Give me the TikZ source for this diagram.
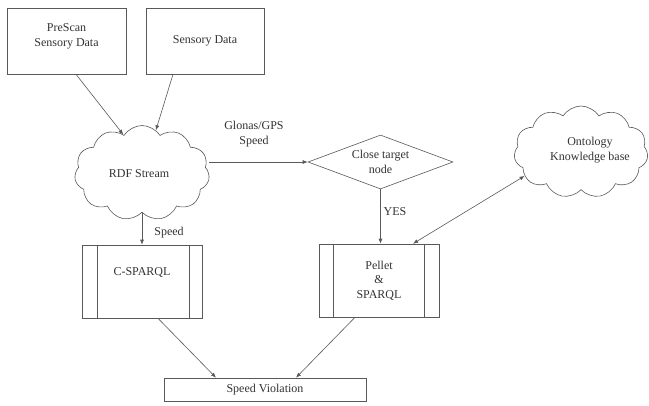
\documentclass[tikz,border=0pt]{standalone}
\usepackage{fontspec}
\setmainfont{Liberation Serif}
\usetikzlibrary{shapes.geometric,shapes.symbols,arrows.meta,calc}
\definecolor{lncol}{gray}{0.35}
\definecolor{txcol}{gray}{0.2}
\tikzset{
  every node/.style={text=txcol,font=\fontsize{12}{14.5}\selectfont},
  databox/.style={draw=lncol,line width=0.6pt,rectangle,inner sep=0pt,align=center},
  procbox/.style={draw=lncol,line width=0.6pt,rectangle,inner sep=0pt,minimum width=120pt,minimum height=73pt,align=center},
  cloudbox/.style={draw=lncol,line width=0.6pt,cloud,cloud puffs=11,cloud puff arc=115,inner sep=0pt,align=center},
  decbox/.style={draw=lncol,line width=0.6pt,diamond,aspect=2.7,inner sep=0pt,minimum width=145pt,minimum height=54pt,align=center},
  arr/.style={draw=lncol,line width=0.6pt,-{Latex[length=5pt,width=4pt]}},
  darr/.style={draw=lncol,line width=0.6pt,{Latex[length=5pt,width=4pt]}-{Latex[length=5pt,width=4pt]}},
  lbl/.style={align=center,inner sep=0pt}
}
\begin{document}
\begin{tikzpicture}[x=1pt,y=-1pt]
\useasboundingbox[fill=white] (0,0) rectangle (649,405);

\node[databox,minimum width=119pt,minimum height=66pt] (b1) at (66.5,41) {};
\node[lbl] at (66.5,36.5) {PreScan\\Sensory Data};
\node[databox,minimum width=118pt,minimum height=66pt] (b2) at (205,41) {Sensory Data};

\node[cloudbox,minimum width=135pt,minimum height=95pt] (rdf) at (142,173) {};
\node[lbl] at (139,174) {RDF Stream};

\node[decbox] (dia) at (380.5,162) {Close target\\node};

\node[cloudbox,minimum width=134pt,minimum height=92pt] (ont) at (581,152) {};
\node[lbl] at (590,150) {Ontology\\Knowledge base};

\node[procbox] (cs) at (142.5,281.5) {};
\draw[lncol,line width=0.6pt] ([xshift=15pt]cs.north west) -- ([xshift=15pt]cs.south west);
\draw[lncol,line width=0.6pt] ([xshift=-14pt]cs.north east) -- ([xshift=-14pt]cs.south east);
\node[lbl] at (142,272) {C-SPARQL};

\node[procbox] (pel) at (379,280.5) {Pellet\\\&\\SPARQL};
\draw[lncol,line width=0.6pt] ([xshift=15pt]pel.north west) -- ([xshift=15pt]pel.south west);
\draw[lncol,line width=0.6pt] ([xshift=-15pt]pel.north east) -- ([xshift=-15pt]pel.south east);

\node[databox,minimum width=202pt,minimum height=23pt] (sv) at (265,389.5) {Speed Violation};

\draw[arr] ([xshift=9.5pt]b1.south) -- (rdf.116);
\draw[arr] ([xshift=-32pt]b2.south) -- (rdf.72);
\draw[arr] (rdf.east |- dia.west) -- (dia.west);
\node[lbl] at (254,134) {Glonas/GPS\\Speed};
\draw[arr] (rdf.south) -- (rdf.south |- cs.north);
\node[lbl] at (169,233) {Speed};
\draw[arr] (dia.south) -- (dia.south |- pel.north);
\node[lbl] at (395,212) {YES};
\draw[darr] ([xshift=34pt]pel.north) -- (ont.203);
\draw[arr] ([xshift=15.5pt]cs.south) -- ([xshift=-49pt]sv.north);
\draw[arr] ([xshift=-24pt]pel.south) -- ([xshift=31pt]sv.north);
\end{tikzpicture}
\end{document}
